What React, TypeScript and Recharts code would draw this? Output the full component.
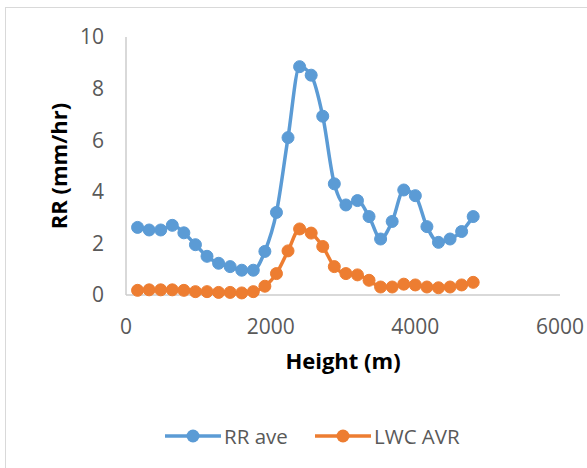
import React from 'react';
import { LineChart, Line, XAxis, YAxis, Legend } from 'recharts';

// Height (m) of each sample
const heights = [
    160, 320, 480, 640, 800, 960, 1120, 1280, 1440, 1600,
    1760, 1920, 2080, 2240, 2400, 2560, 2720, 2880, 3040, 3200,
    3360, 3520, 3680, 3840, 4000, 4160, 4320, 4480, 4640, 4800,
];
const rrAve = [
    2.62, 2.52, 2.52, 2.7, 2.41, 1.95, 1.5, 1.23, 1.1, 0.96,
    0.96, 1.69, 3.2, 6.1, 8.85, 8.52, 6.93, 4.31, 3.49, 3.66,
    3.04, 2.17, 2.85, 4.07, 3.85, 2.65, 2.04, 2.17, 2.46, 3.04,
];
const lwcAvr = [
    0.18, 0.2, 0.2, 0.2, 0.18, 0.13, 0.13, 0.1, 0.1, 0.08,
    0.13, 0.34, 0.83, 1.71, 2.56, 2.4, 1.88, 1.1, 0.83, 0.78,
    0.57, 0.31, 0.31, 0.42, 0.39, 0.31, 0.28, 0.31, 0.39, 0.49,
];
const xTicks = [0, 2000, 4000, 6000];
const yTicks = [0, 2, 4, 6, 8, 10];

const BLUE = '#5b9bd5';
const ORANGE = '#ed7d31';
const FONT = '"Open Sans", sans-serif';

const data = heights.map((h, i) => ({ height: h, rr: rrAve[i], lwc: lwcAvr[i] }));

const legendItems = [
    { label: 'RR ave', color: BLUE, left: 165 },
    { label: 'LWC AVR', color: ORANGE, left: 315 },
];

const CustomLegend = () => (
    <div style={{ position: 'relative', height: 30, width: 587 }}>
        {legendItems.map((it) => (
            <div
                key={it.label}
                style={{
                    position: 'absolute',
                    left: it.left,
                    top: 0,
                    height: 30,
                    display: 'flex',
                    alignItems: 'center',
                }}
            >
                <svg width={56} height={16}>
                    <line x1={0} y1={8} x2={56} y2={8} stroke={it.color} strokeWidth={3.5} />
                    <circle cx={28} cy={8} r={6.5} fill={it.color} />
                </svg>
                <span
                    style={{
                        fontFamily: FONT,
                        fontSize: 20.5,
                        color: '#595959',
                        marginLeft: 3,
                        lineHeight: '30px',
                    }}
                >
                    {it.label}
                </span>
            </div>
        ))}
    </div>
);

const App: React.FC = () => {
    return (
        <div
            style={{
                position: 'absolute',
                left: 0,
                top: 0,
                width: 587,
                height: 468,
                overflow: 'hidden',
                background: '#fff',
            }}
        >
            {/* chart frame, runs off the right and bottom edges */}
            <div
                style={{
                    position: 'absolute',
                    left: 5,
                    top: 7,
                    width: 700,
                    height: 600,
                    border: '1px solid #d9d9d9',
                }}
            />
            <div style={{ position: 'absolute', left: 0, top: 0 }}>
                <LineChart
                    width={587}
                    height={468}
                    data={data}
                    margin={{ top: 37, right: 27, left: 20, bottom: 17 }}
                >
                    <XAxis
                        dataKey="height"
                        type="number"
                        domain={[0, 6000]}
                        ticks={xTicks}
                        height={126}
                        tickLine={false}
                        tickSize={0}
                        tickMargin={24}
                        axisLine={{ stroke: '#cccccc', strokeWidth: 1.5 }}
                        tick={{ fontSize: 21, fill: '#595959', fontFamily: FONT }}
                        label={{
                            value: 'Height (m)',
                            position: 'insideTop',
                            offset: 58,
                            style: { fontSize: 22, fontWeight: 700, fill: '#000', fontFamily: FONT },
                        }}
                    />
                    <YAxis
                        type="number"
                        domain={[0, 10]}
                        ticks={yTicks}
                        width={106}
                        tickLine={false}
                        tickSize={0}
                        tickMargin={22}
                        axisLine={{ stroke: '#cccccc', strokeWidth: 1.5 }}
                        tick={{ fontSize: 21, fill: '#595959', fontFamily: FONT }}
                        label={{
                            value: 'RR (mm/hr)',
                            angle: -90,
                            position: 'insideLeft',
                            offset: 39,
                            style: {
                                textAnchor: 'middle',
                                fontSize: 22,
                                fontWeight: 700,
                                fill: '#000',
                                fontFamily: FONT,
                            },
                        }}
                    />
                    <Legend
                        verticalAlign="bottom"
                        content={<CustomLegend />}
                        wrapperStyle={{ left: 0, width: 587 }}
                    />

                    {/* RR average */}
                    <Line
                        type="monotone"
                        dataKey="rr"
                        name="RR ave"
                        stroke={BLUE}
                        strokeWidth={3.5}
                        dot={{ r: 6, fill: BLUE, stroke: BLUE, strokeWidth: 1 }}
                        isAnimationActive={false}
                    />

                    {/* LWC average */}
                    <Line
                        type="monotone"
                        dataKey="lwc"
                        name="LWC AVR"
                        stroke={ORANGE}
                        strokeWidth={3.5}
                        dot={{ r: 6, fill: ORANGE, stroke: ORANGE, strokeWidth: 1 }}
                        isAnimationActive={false}
                    />
                </LineChart>
            </div>
        </div>
    );
};

export default App;
